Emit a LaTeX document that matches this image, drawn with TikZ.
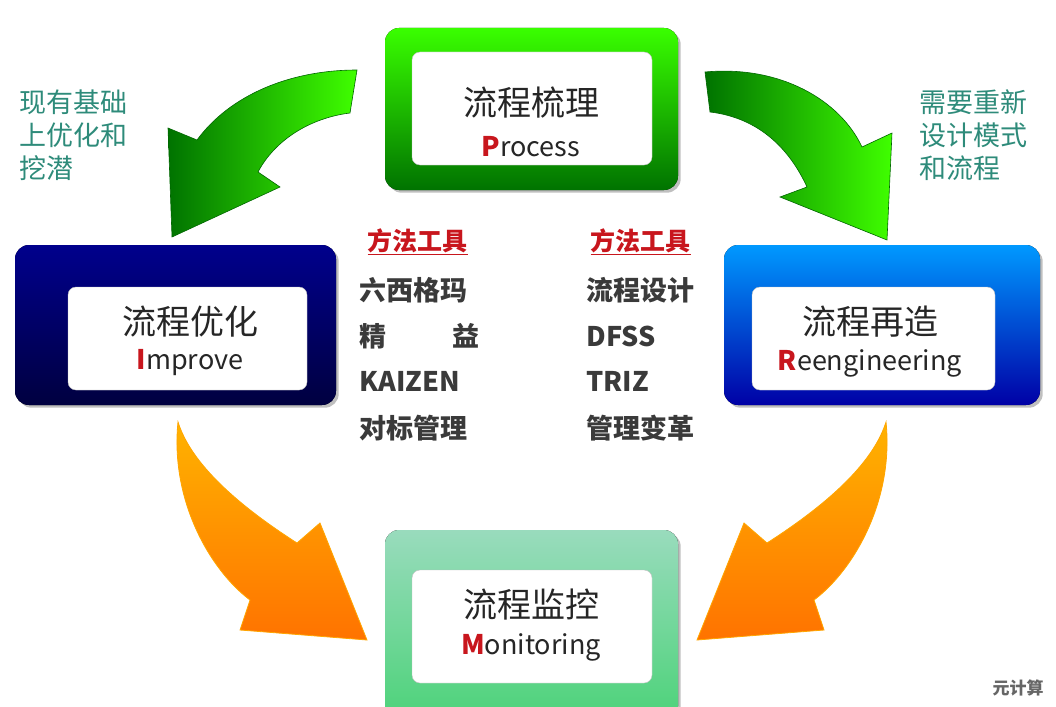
\documentclass[tikz,border=0pt]{standalone}
\usepackage{fontspec}
\setmainfont{Noto Sans CJK SC}
\usetikzlibrary{shadows}
\definecolor{tealtxt}{HTML}{2E8B7A}
\definecolor{redtxt}{HTML}{C8161D}
\definecolor{graytxt}{HTML}{3A3A3A}
\newcommand{\redcap}[1]{\textcolor{redtxt}{\bfseries #1}}
\tikzset{
  inner/.style={fill=white,rounded corners=8pt,draw=black!25},
  big/.style={font=\fontsize{34}{36}\selectfont,text=black!85},
  eng/.style={font=\fontsize{27}{30}\selectfont,text=black!85},
  mid/.style={font=\bfseries\fontsize{27}{30}\selectfont,text=graytxt,anchor=west},
  side/.style={font=\fontsize{27}{33}\selectfont,text=tealtxt,align=left,anchor=north west},
  garrow/.style={left color=green!45!black,right color=green!75!yellow,draw=green!40!black,line width=0.6pt},
  oarrow/.style={top color=orange!60!yellow,bottom color=orange!90!red,draw=orange!70!yellow,line width=0.8pt}
}
\begin{document}
\begin{tikzpicture}[x=1pt,y=-1pt]
\useasboundingbox (0,0) rectangle (1056,706);
% boxes
\fill[rounded corners=14pt,top color=green!70!lime,bottom color=green!45!black,drop shadow] (385,28) rectangle (678,190);
\fill[inner] (412,52) rectangle (652,165);
\fill[rounded corners=14pt,top color=blue!55!black,bottom color=blue!25!black,drop shadow] (15,245) rectangle (336,405);
\fill[inner] (68,287) rectangle (307,390);
\fill[rounded corners=14pt,top color=cyan!60!blue,bottom color=blue!65!black,drop shadow] (724,245) rectangle (1040,405);
\fill[inner] (752,287) rectangle (995,390);
\fill[rounded corners=14pt,top color=green!30!teal!40,bottom color=green!50!teal!70,drop shadow] (385,530) rectangle (678,720);
\fill[inner] (412,570) rectangle (652,683);
% arrows
\draw[garrow] (357,70) .. controls (290,70) and (230,95) .. (197,140) -- (168,128) -- (172,237) -- (280,187) -- (258,172) .. controls (275,140) and (310,118) .. (350,113) -- cycle;
\draw[garrow] (705,72) .. controls (780,65) and (840,100) .. (862,147) -- (892,133) -- (887,240) -- (780,197) -- (807,187) .. controls (790,150) and (760,118) .. (710,112) -- cycle;
\draw[oarrow] (178,422) .. controls (170,500) and (210,570) .. (250,600) -- (240,630) -- (367,640) -- (320,523) -- (297,543) .. controls (230,500) and (190,460) .. (178,422) -- cycle;
\draw[oarrow] (886,422) .. controls (894,500) and (854,570) .. (814,600) -- (824,630) -- (697,640) -- (744,523) -- (767,543) .. controls (834,500) and (874,460) .. (886,422) -- cycle;
% box texts
\node[big] (t1) at (531,103) {流程梳理};
\node[eng] (t2) at (531,147) {\redcap{P}rocess};
\node[big] (l1) at (190,322) {流程优化};
\node[eng] (l2) at (190,363) {\redcap{I}mprove};
\node[big] (r1) at (870,322) {流程再造};
\node[eng] (r2) at (870,363) {\redcap{R}eengineering};
\node[big] (b1) at (531,605) {流程监控};
\node[eng] (b2) at (531,647) {\redcap{M}onitoring};
% side texts
\node[side] (sl) at (16,86) {现有基础\\上优化和\\挖潜};
\node[side] (sr) at (916,86) {需要重新\\设计模式\\和流程};
% middle
\node[mid,text=redtxt,font=\bfseries\fontsize{25}{26}\selectfont] (h1) at (364,242) {\underline{方法工具}};
\node[mid,text=redtxt,font=\bfseries\fontsize{25}{26}\selectfont] (h2) at (587,242) {\underline{方法工具}};
\node[mid] (m1) at (356,290) {六西格玛};
\node[mid] (m2) at (356,336) {精\hspace{66pt}益};
\node[mid] (m3) at (356,381) {KAIZEN};
\node[mid] (m4) at (356,428) {对标管理};
\node[mid] (n1) at (583,290) {流程设计};
\node[mid] (n2) at (583,336) {DFSS};
\node[mid] (n3) at (583,381) {TRIZ};
\node[mid] (n4) at (583,428) {管理变革};
\node[font=\bfseries\fontsize{17}{18}\selectfont,text=black!60] (wm) at (1018,688) {元计算};
\end{tikzpicture}
\end{document}
